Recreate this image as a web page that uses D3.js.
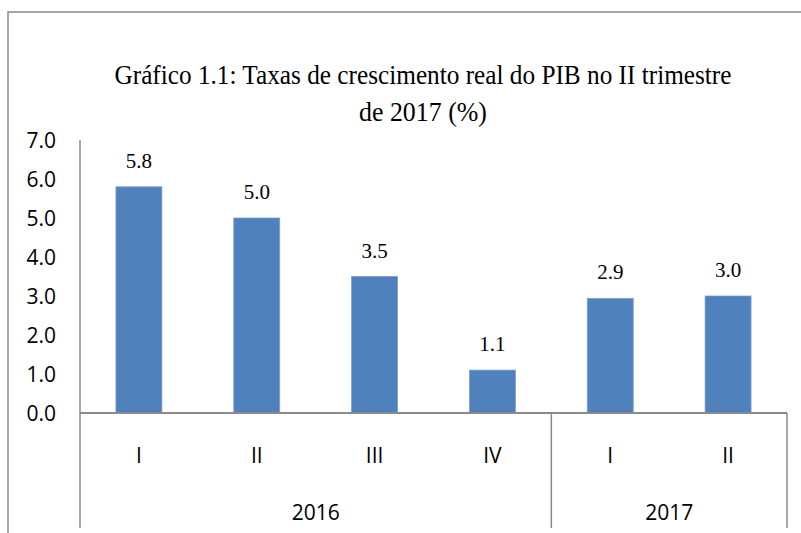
<!DOCTYPE html>
<html>
<head>
<meta charset="utf-8">
<script src="https://cdn.jsdelivr.net/npm/d3@7"></script>
<style>
  body { margin: 0; background: #fff; }
  svg { display: block; }
</style>
</head>
<body>
<div id="chart"></div>
<script>
// data
const quarters = ["I", "II", "III", "IV", "I", "II"];
const years = ["2016", "2016", "2016", "2016", "2017", "2017"];
const growth = [5.8, 5.0, 3.5, 1.1, 2.94, 3.0];
const yTicks = [0, 1, 2, 3, 4, 5, 6, 7];
const titleLines = ["Gráfico  1.1: Taxas de crescimento real do PIB no II trimestre", "de 2017 (%)"];

const width = 801, height = 533;
const margin = {top: 140, right: 14, bottom: 120, left: 80};
const plotW = width - margin.left - margin.right;
const plotH = height - margin.top - margin.bottom;
const sans = "'Open Sans', 'Liberation Sans', sans-serif";
const serif = "'Liberation Serif', 'Times New Roman', serif";

const svg = d3.select("#chart")
    .append("svg")
    .attr("width", width)
    .attr("height", height);

// outer frame (runs off the right and bottom edges)
svg.append("rect")
    .attr("x", 8)
    .attr("y", 12)
    .attr("width", 820)
    .attr("height", 560)
    .attr("fill", "none")
    .attr("stroke", "#8a8a8a")
    .attr("stroke-width", 1.5);

// title - condensed serif, squeezed to the measured widths
const titleWidths = [617, 128];
svg.append("g")
    .selectAll("text")
    .data(titleLines)
    .enter()
    .append("text")
    .attr("x", 423)
    .attr("y", (d, i) => 84 + i * 37)
    .attr("text-anchor", "middle")
    .attr("font-family", serif)
    .attr("font-size", 27)
    .attr("textLength", (d, i) => titleWidths[i])
    .attr("lengthAdjust", "spacingAndGlyphs")
    .attr("fill", "#000")
    .text(d => d);

const g = svg.append("g")
    .attr("transform", `translate(${margin.left},${margin.top})`);

const idx = d3.range(growth.length);

const x = d3.scaleBand()
    .domain(idx)
    .range([0, plotW])
    .paddingInner(0.61)
    .paddingOuter(0.305);

const y = d3.scaleLinear()
    .domain([0, 7])
    .range([plotH, 0]);

// y axis: labels only, plus the vertical line running down through the category rows
const yAxis = g.append("g")
    .call(d3.axisLeft(y).tickValues(yTicks).tickFormat(d3.format(".1f")).tickSize(0).tickPadding(24));
yAxis.select(".domain").remove();
yAxis.selectAll("text")
    .attr("font-family", sans)
    .attr("font-size", 21)
    .attr("fill", "#000")
    .attr("dy", "0.36em");

g.append("line")
    .attr("x1", 0).attr("x2", 0)
    .attr("y1", 0).attr("y2", plotH + 115)
    .attr("stroke", "#8a8a8a")
    .attr("stroke-width", 1.5);

// bars
g.selectAll(".bar")
    .data(growth)
    .enter()
    .append("rect")
    .attr("class", "bar")
    .attr("x", (d, i) => x(i))
    .attr("y", d => y(d))
    .attr("width", x.bandwidth())
    .attr("height", d => plotH - y(d))
    .attr("fill", "#4f81bd")
    .attr("stroke", "#7c9fcf")
    .attr("stroke-width", 0.8);

// value labels
g.selectAll(".val")
    .data(growth)
    .enter()
    .append("text")
    .attr("class", "val")
    .attr("x", (d, i) => x(i) + x.bandwidth() / 2)
    .attr("y", d => y(d) - 19)
    .attr("text-anchor", "middle")
    .attr("font-family", serif)
    .attr("font-size", 21)
    .attr("fill", "#000")
    .text(d => d.toFixed(1));

// zero line
g.append("line")
    .attr("x1", 0).attr("x2", plotW)
    .attr("y1", y(0)).attr("y2", y(0))
    .attr("stroke", "#8a8a8a")
    .attr("stroke-width", 2);

// quarter labels
const step = x.step();
g.selectAll(".qtr")
    .data(quarters)
    .enter()
    .append("text")
    .attr("class", "qtr")
    .attr("x", (d, i) => x(i) + x.bandwidth() / 2)
    .attr("y", plotH + 50)
    .attr("text-anchor", "middle")
    .attr("font-family", sans)
    .attr("font-size", 21)
    .attr("fill", "#000")
    .text(d => d);

// year groups
const yearGroups = d3.groups(idx, i => years[i]).map(([yr, is]) => ({
    year: yr,
    x0: x(d3.min(is)) - x.paddingOuter() * step,
    x1: x(d3.max(is)) + x.bandwidth() + x.paddingOuter() * step
}));

g.selectAll(".sep")
    .data(yearGroups)
    .enter()
    .append("line")
    .attr("class", "sep")
    .attr("x1", d => d.x1).attr("x2", d => d.x1)
    .attr("y1", plotH).attr("y2", plotH + 115)
    .attr("stroke", "#8a8a8a")
    .attr("stroke-width", 1.5);

g.selectAll(".yr")
    .data(yearGroups)
    .enter()
    .append("text")
    .attr("class", "yr")
    .attr("x", d => (d.x0 + d.x1) / 2)
    .attr("y", plotH + 107)
    .attr("text-anchor", "middle")
    .attr("font-family", sans)
    .attr("font-size", 21)
    .attr("fill", "#000")
    .text(d => d.year);
</script>
</body>
</html>
